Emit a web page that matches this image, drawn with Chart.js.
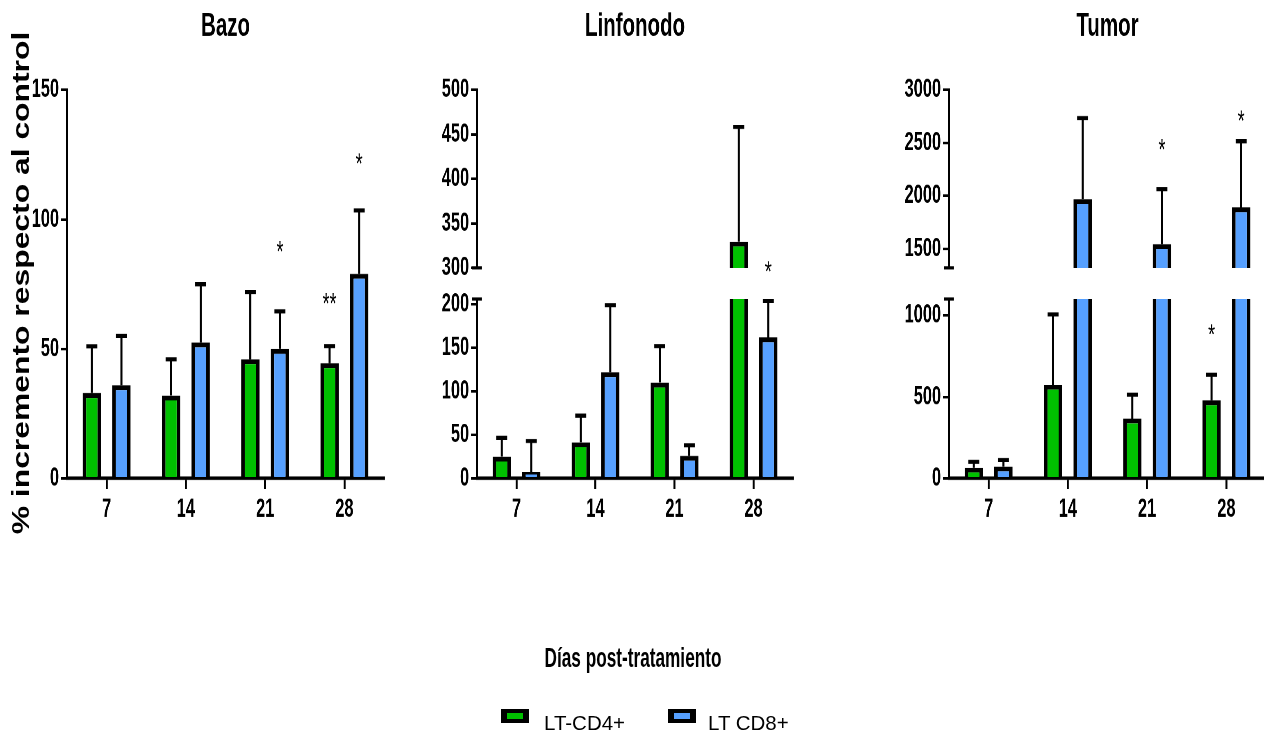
<!DOCTYPE html>
<html><head><meta charset="utf-8">
<script src="https://cdn.jsdelivr.net/npm/chart.js@4.4.1/dist/chart.umd.min.js"></script>
<style>
html,body{margin:0;padding:0;background:#fff;overflow:hidden;width:1264px;height:732px}
#stage{position:absolute;left:0;top:0;width:1264px;height:563px;transform:scaleY(1.3);transform-origin:0 0}
#stage canvas{position:absolute;transform:scaleX(0.82);transform-origin:0 0}
#xtitle{position:absolute;left:433px;top:493.6px;width:400px;text-align:center;color:#000;
  font:bold 21px/24px 'Liberation Sans',Arial,sans-serif;transform:scaleX(0.82);transform-origin:50% 0;white-space:nowrap}
#ytitle{position:absolute;left:-179px;top:203.3px;width:400px;height:29.4px;line-height:29.4px;text-align:center;color:#000;
  font-family:'Liberation Sans',Arial,sans-serif;font-weight:bold;font-size:24.5px;transform:rotate(-90deg);transform-origin:50% 50%;white-space:nowrap}
.lgbox{position:absolute;width:16px;height:6px;border:4px solid #000;border-left-width:6px;border-right-width:6px}
.lgtxt{position:absolute;color:#000;font:20.5px 'Liberation Sans',Arial,sans-serif;white-space:nowrap}
</style></head>
<body>
<div id="stage"><div id="ytitle"></div><div id="xtitle">Días post-tratamiento</div></div>
<div id="legend"></div>
<script>
// ---------- data ----------
const categories = ['7', '14', '21', '28'];
const seriesNames = ['LT-CD4+', 'LT CD8+'];

const bazoCD4 = [33, 32, 46, 44.5];
const bazoCD4Err = [18, 14, 26, 6.6];
const bazoCD8 = [36, 52.5, 50, 79];
const bazoCD8Err = [19, 22.5, 14.5, 24.5];

const linfCD4 = [25, 41.5, 110, 329.5];
const linfCD4Err = [21.5, 30.5, 42, 129];
const linfCD8 = [7.5, 122, 26, 162];
const linfCD8Err = [35.5, 77, 12, 42];

const tumorCD4 = [65, 574, 367, 479];
const tumorCD4Err = [36, 432, 146, 156];
const tumorCD8 = [73, 1969, 1544, 1891];
const tumorCD8Err = [39, 765, 518, 625];

// significance marks and the value at which each one sits
const bazoMarksCD4 = ['', '', '', '**'];
const bazoMarkYCD4 = [null, null, null, 70];
const bazoMarksCD8 = ['', '', '*', '*'];
const bazoMarkYCD8 = [null, null, 90, 124];
const linfMarksCD4 = ['', '', '', ''];
const linfMarkYCD4 = [null, null, null, null];
const linfMarksCD8 = ['', '', '', '*'];
const linfMarkYCD8 = [null, null, null, 303];
const tumorMarksCD4 = ['', '', '', '*'];
const tumorMarkYCD4 = [null, null, null, 919];
const tumorMarksCD8 = ['', '', '*', '*'];
const tumorMarkYCD8 = [null, null, 2500, 2772];

// axis ticks and ranges (broken axes: low and high segments)
const bazoTicks = [0, 50, 100, 150];
const bazoRange = [0, 150];
const linfLowTicks = [0, 50, 100, 150, 200];
const linfLowRange = [0, 206];
const linfHighTicks = [300, 350, 400, 450, 500];
const linfHighRange = [300, 500];
const tumorLowTicks = [0, 500, 1000];
const tumorLowRange = [0, 1100];
const tumorHighTicks = [1500, 2000, 2500, 3000];
const tumorHighRange = [1320, 3000];

const panelTitles = ['Bazo', 'Linfonodo', 'Tumor'];
const yAxisTitle = '% incremento respecto al control';

// ---------- styles ----------
const GREEN = 'rgb(0,192,0)';
const BLUE = 'rgb(86,160,255)';
const SANS = "'Liberation Sans',Arial,sans-serif";
const tickFont = {family: SANS, size: 20, weight: 'bold'};

document.getElementById('ytitle').textContent = yAxisTitle;

const errPlugin = {
  id: 'errBars',
  afterDatasetsDraw(chart) {
    const {ctx, chartArea: a} = chart;
    const ys = chart.scales.y;
    ctx.save();
    ctx.beginPath(); ctx.rect(a.left, a.top, a.right - a.left, a.bottom - a.top); ctx.clip();
    ctx.strokeStyle = '#000';
    chart.data.datasets.forEach((ds, di) => {
      const meta = chart.getDatasetMeta(di);
      meta.data.forEach((bar, i) => {
        const v = ds.data[i], e = ds.errors[i];
        const x = bar.x, y0 = ys.getPixelForValue(v), y1 = ys.getPixelForValue(v + e);
        ctx.lineWidth = 2.5;
        ctx.beginPath(); ctx.moveTo(x, y0); ctx.lineTo(x, y1); ctx.stroke();
        ctx.lineWidth = 3.2;
        ctx.beginPath(); ctx.moveTo(x - 6.7, y1); ctx.lineTo(x + 6.7, y1); ctx.stroke();
      });
    });
    ctx.restore();
  }
};

const markPlugin = {
  id: 'sigMarks',
  afterDatasetsDraw(chart) {
    const {ctx} = chart;
    const ys = chart.scales.y;
    ctx.save();
    ctx.fillStyle = '#000';
    ctx.font = '22px ' + SANS;
    ctx.textAlign = 'center';
    ctx.textBaseline = 'alphabetic';
    chart.data.datasets.forEach((ds, di) => {
      const meta = chart.getDatasetMeta(di);
      ds.marks.forEach((t, i) => {
        const v = ds.markY[i];
        if (!t || v == null || v < ys.min || v > ys.max) return;
        ctx.fillText(t, meta.data[i].x, ys.getPixelForValue(v) + 12.5);
      });
    });
    ctx.restore();
  }
};

const capPlugin = {
  id: 'breakCap',
  afterDraw(chart, args, opts) {
    if (!opts || !opts.edge) return;
    const {ctx, chartArea: a} = chart;
    const y = opts.edge === 'top' ? a.top : a.bottom;
    ctx.save();
    ctx.strokeStyle = '#000'; ctx.lineWidth = 2.5;
    ctx.beginPath(); ctx.moveTo(a.left - 6, y); ctx.lineTo(a.left + 6, y); ctx.stroke();
    ctx.restore();
  }
};

function makeChart(p) {
  const stage = document.getElementById('stage');
  const cv = document.createElement('canvas');
  cv.width = p.width; cv.height = p.height;
  cv.style.left = p.left + 'px'; cv.style.top = p.top + 'px';
  stage.appendChild(cv);
  const ds = (label, data, err, marks, markY, color) => ({
    label, data, errors: err, marks, markY,
    backgroundColor: color, borderColor: '#000',
    borderWidth: {top: 3.8, left: 4.4, right: 4.4, bottom: 0}, borderSkipped: false,
    clip: 0, categoryPercentage: 0.747, barPercentage: 0.62
  });
  return new Chart(cv, {
    type: 'bar',
    data: {
      labels: categories,
      datasets: [
        ds(seriesNames[0], p.cd4, p.cd4Err, p.m4, p.my4, GREEN),
        ds(seriesNames[1], p.cd8, p.cd8Err, p.m8, p.my8, BLUE)
      ]
    },
    options: {
      responsive: false, animation: false, devicePixelRatio: 2,
      events: [],
      layout: {padding: {top: p.title ? 5.6 : 20, right: p.padRight, bottom: p.showX ? 0 : 20, left: 0}},
      plugins: {
        legend: {display: false},
        tooltip: {enabled: false},
        title: p.title ? {
          display: true, text: p.title, fullSize: false, color: '#000',
          font: {family: SANS, size: 25, weight: 'bold'},
          padding: {top: 0, bottom: 33.6}
        } : {display: false},
        breakCap: {edge: p.cap || null}
      },
      scales: {
        x: {
          display: p.showX, offset: true,
          grid: {offset: false, drawOnChartArea: false, drawTicks: true, tickLength: 8, color: '#000', lineWidth: 2.4},
          border: {display: true, color: '#000', width: 2.6},
          ticks: {color: '#000', font: tickFont, padding: 4, maxRotation: 0},
          afterFit: s => { if (p.showX) s.height = 45; }
        },
        y: {
          min: p.range[0], max: p.range[1],
          afterBuildTicks: s => { s.ticks = p.ticks.map(v => ({value: v})); },
          afterFit: s => { s.width = p.yWidth; },
          grid: {drawOnChartArea: false, drawTicks: true, tickLength: 7.3, color: '#000', lineWidth: 2},
          border: {display: true, color: '#000', width: 2.5},
          ticks: {color: '#000', font: tickFont, padding: 2.4, callback: v => String(v)}
        }
      }
    },
    plugins: [errPlugin, markPlugin, capPlugin]
  });
}

// Bazo (single axis)
makeChart({left: 0, top: 0, width: 490, height: 413, yWidth: 81.7, padRight: 21.7, title: panelTitles[0], showX: true,
  range: bazoRange, ticks: bazoTicks,
  cd4: bazoCD4, cd4Err: bazoCD4Err, cd8: bazoCD8, cd8Err: bazoCD8Err,
  m4: bazoMarksCD4, my4: bazoMarkYCD4, m8: bazoMarksCD8, my8: bazoMarkYCD8});

// Linfonodo (broken axis)
makeChart({left: 400, top: 0, width: 500, height: 226, yWidth: 93.9, padRight: 20.7, title: panelTitles[1], showX: false,
  range: linfHighRange, ticks: linfHighTicks, cap: 'bottom',
  cd4: linfCD4, cd4Err: linfCD4Err, cd8: linfCD8, cd8Err: linfCD8Err,
  m4: linfMarksCD4, my4: linfMarkYCD4, m8: linfMarksCD8, my8: linfMarkYCD8});
makeChart({left: 400, top: 210, width: 500, height: 203, yWidth: 93.9, padRight: 20.7, showX: true,
  range: linfLowRange, ticks: linfLowTicks, cap: 'top',
  cd4: linfCD4, cd4Err: linfCD4Err, cd8: linfCD8, cd8Err: linfCD8Err,
  m4: linfMarksCD4, my4: linfMarkYCD4, m8: linfMarksCD8, my8: linfMarkYCD8});

// Tumor (broken axis)
makeChart({left: 870, top: 0, width: 500, height: 226, yWidth: 96.3, padRight: 17.1, title: panelTitles[2], showX: false,
  range: tumorHighRange, ticks: tumorHighTicks, cap: 'bottom',
  cd4: tumorCD4, cd4Err: tumorCD4Err, cd8: tumorCD8, cd8Err: tumorCD8Err,
  m4: tumorMarksCD4, my4: tumorMarkYCD4, m8: tumorMarksCD8, my8: tumorMarkYCD8});
makeChart({left: 870, top: 210, width: 500, height: 203, yWidth: 96.3, padRight: 17.1, showX: true,
  range: tumorLowRange, ticks: tumorLowTicks, cap: 'top',
  cd4: tumorCD4, cd4Err: tumorCD4Err, cd8: tumorCD8, cd8Err: tumorCD8Err,
  m4: tumorMarksCD4, my4: tumorMarkYCD4, m8: tumorMarksCD8, my8: tumorMarkYCD8});

// shared legend
(function () {
  const lg = document.getElementById('legend');
  const colors = [GREEN, BLUE];
  const boxLeft = [501, 668], txtLeft = [544, 708];
  seriesNames.forEach((name, i) => {
    const b = document.createElement('div');
    b.className = 'lgbox'; b.style.left = boxLeft[i] + 'px'; b.style.top = '709px'; b.style.background = colors[i];
    const t = document.createElement('span');
    t.className = 'lgtxt'; t.style.left = txtLeft[i] + 'px'; t.style.top = '711px'; t.textContent = name;
    lg.appendChild(b); lg.appendChild(t);
  });
})();
</script>
</body></html>
